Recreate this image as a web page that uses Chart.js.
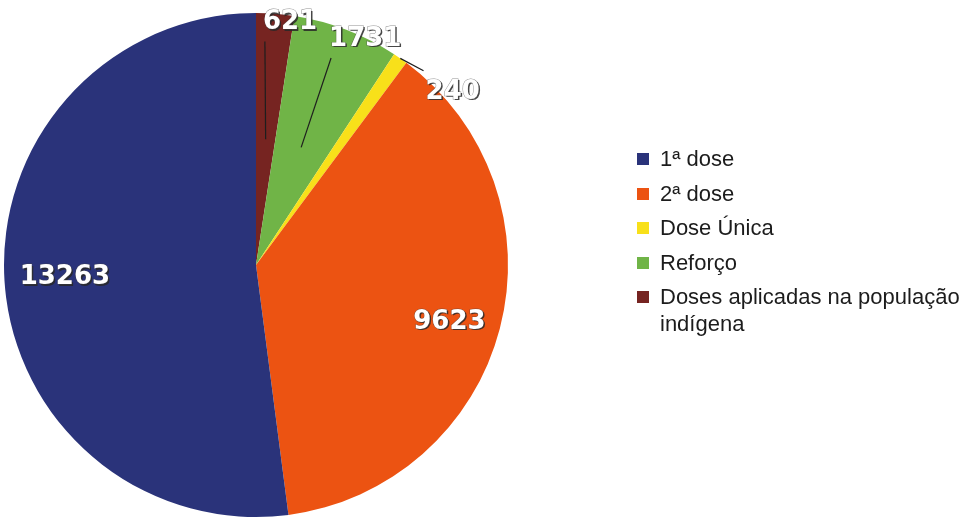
<!DOCTYPE html>
<html>
<head>
<meta charset="utf-8">
<script src="https://cdn.jsdelivr.net/npm/chart.js@4"></script>
<style>
  html, body { margin: 0; padding: 0; background: #fff; }
  #wrap { position: relative; width: 976px; height: 522px; overflow: hidden; }
  #legend { position: absolute; left: 637px; top: 145px; font-family: "Liberation Sans", Arial, sans-serif; font-size: 22px; color: #1c1c1c; }
  .item { position: relative; padding-left: 23px; line-height: 27px; margin-bottom: 7.5px; white-space: nowrap; }
  .item .sw { position: absolute; left: 0; top: 8px; width: 12px; height: 12px; }
</style>
</head>
<body>
<div id="wrap">
  <canvas id="pie" width="976" height="522"></canvas>
  <div id="legend"></div>
</div>
<script>
// data (legend order)
const categories = ['1ª dose', '2ª dose', 'Dose Única', 'Reforço', 'Doses aplicadas na população indígena'];
const doses = [13263, 9623, 240, 1731, 621];
const colors = ['#2a337a', '#ec5312', '#f8e01a', '#70b447', '#762421'];

// the original runs counter-clockwise from 12 o'clock, chart.js runs clockwise,
// so the slices are fed in reverse
const drawLabels = categories.slice().reverse();
const drawValues = doses.slice().reverse();
const drawColors = colors.slice().reverse();

// label placement per drawn slice: radius factor, angle shift (deg), leader type
const labelPlacement = [
  { f: 0.972, shift: 3.6, leader: 'inner' },   // 621
  { f: 0.996, shift: 4.8, leader: 'inner' },   // 1731
  { f: 1.04, shift: 13.7, leader: 'outer' },   // 240
  { f: 0.8, shift: 1.8, leader: null },        // 9623
  { f: 0.76, shift: 0, leader: null }          // 13263
];

const valueLabels = {
  id: 'valueLabels',
  afterDatasetsDraw(chart) {
    const ctx = chart.ctx;
    const meta = chart.getDatasetMeta(0);
    ctx.save();
    ctx.font = 'bold 26px "DejaVu Sans", sans-serif';
    ctx.textAlign = 'center';
    ctx.textBaseline = 'middle';
    meta.data.forEach((arc, i) => {
      const p = arc.getProps(['x', 'y', 'startAngle', 'endAngle', 'outerRadius'], true);
      const pl = labelPlacement[i];
      const mid = (p.startAngle + p.endAngle) / 2;
      const a = mid + pl.shift * Math.PI / 180;
      const lx = p.x + Math.cos(a) * pl.f * p.outerRadius;
      const ly = p.y + Math.sin(a) * pl.f * p.outerRadius;
      const text = String(drawValues[i]);
      const w = ctx.measureText(text).width;
      const left = lx - w / 2, top = ly - 10, bottom = ly + 10;

      if (pl.leader) {
        const rf = pl.leader === 'inner' ? 0.5 : 1;
        const sx = p.x + Math.cos(mid) * rf * p.outerRadius;
        const sy = p.y + Math.sin(mid) * rf * p.outerRadius;
        const ex = pl.leader === 'inner' ? left + 2 : left - 2;
        const ey = pl.leader === 'inner' ? bottom + 9 : top - 11;
        ctx.beginPath();
        ctx.moveTo(sx, sy);
        ctx.lineTo(ex, ey);
        ctx.strokeStyle = '#1e1e1e';
        ctx.lineWidth = 1.2;
        ctx.stroke();
      }

      ctx.fillStyle = 'rgba(40,40,40,0.85)';
      ctx.fillText(text, lx + 1.5, ly + 1.5);
      ctx.lineWidth = 1;
      ctx.strokeStyle = 'rgba(70,70,70,0.6)';
      ctx.strokeText(text, lx, ly);
      ctx.fillStyle = '#ffffff';
      ctx.fillText(text, lx, ly);
    });
    ctx.restore();
  }
};

new Chart(document.getElementById('pie'), {
  type: 'pie',
  data: {
    labels: drawLabels,
    datasets: [{ data: drawValues, backgroundColor: drawColors, borderWidth: 0 }]
  },
  options: {
    responsive: false,
    animation: false,
    devicePixelRatio: 1,
    layout: { padding: { left: 4, top: 13, right: 468, bottom: 5 } },
    plugins: { legend: { display: false }, tooltip: { enabled: false } }
  },
  plugins: [valueLabels]
});

// legend
const legendEl = document.getElementById('legend');
categories.forEach((c, i) => {
  const d = document.createElement('div');
  d.className = 'item';
  d.innerHTML = '<span class="sw" style="background:' + colors[i] + '"></span>' +
    (i === 4 ? 'Doses aplicadas na população<br>indígena' : c);
  legendEl.appendChild(d);
});
</script>
</body>
</html>
